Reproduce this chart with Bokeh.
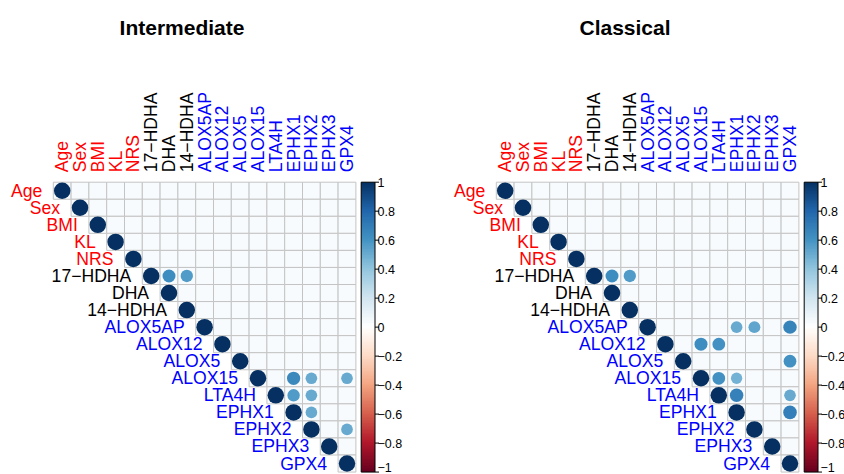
import numpy as np
from bokeh.plotting import figure
from bokeh.layouts import row
from bokeh.models import Range1d, LinearColorMapper, ColumnDataSource
from bokeh.core.properties import value
from bokeh.embed import file_html
from bokeh.resources import INLINE

# ---------------- data ----------------
variables = ["Age", "Sex", "BMI", "KL", "NRS", "17\u2212HDHA", "DHA", "14\u2212HDHA",
             "ALOX5AP", "ALOX12", "ALOX5", "ALOX15", "LTA4H", "EPHX1", "EPHX2", "EPHX3", "GPX4"]
label_colors = ["#FF0000"] * 5 + ["#000000"] * 3 + ["#0000FF"] * 9

# significant off-diagonal correlations (row variable, column variable, r)
inter_rows = ["17\u2212HDHA", "17\u2212HDHA", "ALOX15", "ALOX15", "ALOX15", "LTA4H", "LTA4H", "EPHX1", "EPHX2"]
inter_cols = ["DHA", "14\u2212HDHA", "EPHX1", "EPHX2", "GPX4", "EPHX1", "EPHX2", "EPHX2", "GPX4"]
inter_vals = [0.62, 0.56, 0.64, 0.50, 0.50, 0.57, 0.50, 0.50, 0.50]

class_rows = ["17\u2212HDHA", "17\u2212HDHA", "ALOX5AP", "ALOX5AP", "ALOX5AP", "ALOX12", "ALOX12",
              "ALOX5", "ALOX15", "ALOX15", "LTA4H", "LTA4H", "EPHX1"]
class_cols = ["DHA", "14\u2212HDHA", "EPHX1", "EPHX2", "GPX4", "ALOX15", "LTA4H",
              "GPX4", "LTA4H", "EPHX1", "EPHX1", "GPX4", "GPX4"]
class_vals = [0.62, 0.56, 0.50, 0.52, 0.66, 0.62, 0.60, 0.60, 0.60, 0.47, 0.67, 0.50, 0.68]

titles = ["Intermediate", "Classical"]

cb_ticks = [1.0, 0.8, 0.6, 0.4, 0.2, 0.0, -0.2, -0.4, -0.6, -0.8, -1.0]
cb_labels = ["1", "0.8", "0.6", "0.4", "0.2", "0", "\u22120.2", "\u22120.4", "\u22120.6", "\u22120.8", "\u22121"]

# ---------------- styling / layout ----------------
anchors = ["#67001F", "#B2182B", "#D6604D", "#F4A582", "#FDDBC7", "#FFFFFF",
           "#D1E5F0", "#92C5DE", "#4393C3", "#2166AC", "#053061"]


def hex2rgb(h):
    return np.array([int(h[i:i + 2], 16) for i in (1, 3, 5)], dtype=float)


def build_palette(n=200):
    a = np.array([hex2rgb(c) for c in anchors])
    t = np.linspace(0, len(anchors) - 1, n)
    out = []
    for tt in t:
        k = min(int(np.floor(tt)), len(anchors) - 2)
        f = tt - k
        c = a[k] * (1 - f) + a[k + 1] * f
        out.append("#%02x%02x%02x" % tuple(int(round(v)) for v in c))
    return out


palette = build_palette()
mapper = LinearColorMapper(palette=palette, low=-1, high=1)

FONT = value("Liberation Sans")
H = 474
GX, CW = 52.8, 17.8      # grid left (px) and cell width
GY, CH = 181.7, 17.05    # grid top (px) and cell height
CB_L, CB_W = 360.7, 13.8  # colour bar left (px) and width
D = 16.5                 # circle diameter for |r| = 1
N = len(variables)
idx = {v: i for i, v in enumerate(variables)}


def px_to_x(px):
    return (px - GX) / CW - 0.5


def py_to_y(py):
    return (py - GY) / CH - 0.5


def panel(title, rows_, cols_, vals_, width):
    p = figure(width=width, height=H, output_backend="svg", toolbar_location=None,
               x_range=Range1d(px_to_x(0), px_to_x(width)),
               y_range=Range1d(py_to_y(H), py_to_y(0)),
               min_border=0, outline_line_color=None,
               x_axis_location=None, y_axis_location=None)
    p.xgrid.visible = False
    p.ygrid.visible = False
    p.background_fill_color = "white"
    p.border_fill_color = "white"

    # value-scale for colour bar: top of grid = 1, bottom of grid = -1
    def y_to_v(y):
        return 1 - 2 * (y + 0.5) / N
    p.extra_y_ranges = {"cb": Range1d(y_to_v(py_to_y(H)), y_to_v(py_to_y(0)))}

    # grid cells of upper triangle
    cx, cy = [], []
    for i in range(N):
        for j in range(i, N):
            cx.append(j)
            cy.append(i)
    p.rect(x=cx, y=cy, width=1, height=1, fill_color="#F8FBFD",
           line_color="#C4C4C4", line_width=1)

    # circles
    xs = [idx[v] for v in variables] + [idx[c] for c in cols_]
    ys = [idx[v] for v in variables] + [idx[r] for r in rows_]
    rs = [1.0] * N + list(vals_)
    src = ColumnDataSource(dict(x=xs, y=ys, r=rs, s=[D * np.sqrt(abs(r)) for r in rs]))
    p.scatter(x="x", y="y", size="s", source=src, marker="circle",
              fill_color={"field": "r", "transform": mapper}, line_color=None)

    # row labels
    p.text(x=[i - 0.5 for i in range(N)], y=list(range(N)), text=variables,
           text_color=label_colors, text_font=FONT, text_font_size="17.6px",
           text_align="right", text_baseline="middle", x_offset=-11)
    # column labels
    p.text(x=list(range(N)), y=[-0.5] * N, text=variables, angle=np.pi / 2,
           text_color=label_colors, text_font=FONT, text_font_size="17.6px",
           text_align="left", text_baseline="middle", y_offset=-10)

    # colour bar
    x0 = px_to_x(CB_L)
    w = CB_W / CW
    grad = np.linspace(-1, 1, 200).reshape(200, 1)
    p.image(image=[grad], x=x0, y=-1, dw=w, dh=2, color_mapper=mapper,
            y_range_name="cb")
    p.quad(left=[x0], right=[x0 + w], bottom=[-1], top=[1], fill_color=None,
           line_color="black", line_width=1, y_range_name="cb")
    p.segment(x0=[x0 + w] * len(cb_ticks), x1=[x0 + w + 4 / CW] * len(cb_ticks),
              y0=cb_ticks, y1=cb_ticks, line_color="black", line_width=1,
              y_range_name="cb")
    # last (bottom) label is lifted so that it stays inside the page
    baselines = ["middle"] * (len(cb_ticks) - 1) + ["bottom"]
    p.text(x=[x0 + w + 2.5 / CW] * len(cb_ticks), y=cb_ticks, text=cb_labels,
           text_font=FONT, text_font_size="12.5px", text_color="black",
           text_align="left", text_baseline=baselines, y_range_name="cb")

    # title
    p.text(x=[px_to_x(181.5)], y=[py_to_y(27)], text=[title], text_font=FONT,
           text_font_size="21px", text_font_style="bold", text_color="black",
           text_align="center", text_baseline="alphabetic")
    return p


p1 = panel(titles[0], inter_rows, inter_cols, inter_vals, 443)
p2 = panel(titles[1], class_rows, class_cols, class_vals, 401)
layout = row(p1, p2, spacing=0)

with open("out.html", "w") as f:
    f.write(file_html(layout, INLINE))
